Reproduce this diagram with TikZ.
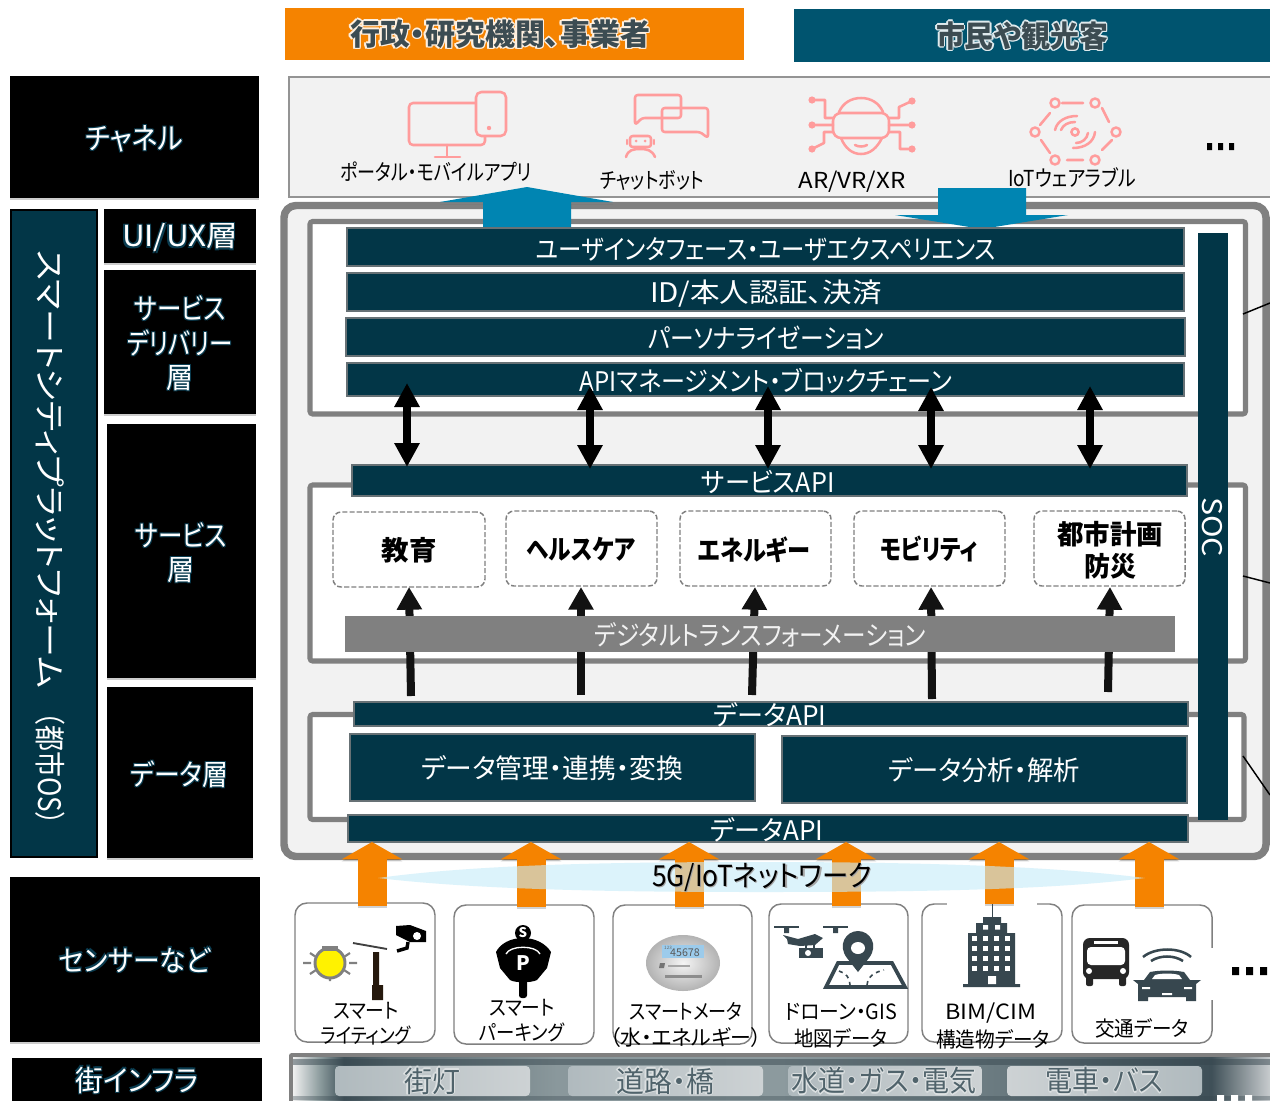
\documentclass[tikz,border=0pt]{standalone}
\usepackage{fontspec}
\usepackage{graphicx}
\setmainfont[RawFeature=+palt]{Noto Sans CJK JP}
\usetikzlibrary{arrows.meta,shadows,shadings}
\newlength\pxu \pxu=.75pt
\definecolor{barteal}{HTML}{023647}
\definecolor{headteal}{HTML}{00546F}
\definecolor{edgegray}{HTML}{808080}
\definecolor{panelgray}{HTML}{F2F2F2}
\definecolor{orangeA}{HTML}{F58300}
\definecolor{blueA}{HTML}{0085B2}
\definecolor{pinkI}{HTML}{FF9C9C}
\definecolor{iconD}{HTML}{37474F}
\definecolor{glowT}{HTML}{0A3C50}
\definecolor{headtxt}{HTML}{3C4C52}
\definecolor{striptxt}{HTML}{50636B}
\definecolor{stA}{HTML}{F0F0F0}
\definecolor{stM}{HTML}{8A9A9C}
\definecolor{stB}{HTML}{3F5058}
\definecolor{stC}{HTML}{5A6A70}
\definecolor{stD}{HTML}{8A989C}
\definecolor{stE}{HTML}{8C9A9E}
\definecolor{stF}{HTML}{6A7A80}
\definecolor{stG}{HTML}{C8CCCE}
\definecolor{lensC}{HTML}{C8ECFA}
\definecolor{lcdC}{HTML}{9CCBEB}
\definecolor{labL}{HTML}{B0BABE}
\definecolor{labR}{HTML}{CDD2D4}
\pgfdeclarehorizontalshading{stripshade}{100bp}{
  color(0bp)=(stA); color(25bp)=(stA); color(26.4bp)=(stM); color(27.6bp)=(stB); color(30bp)=(stC); color(38.5bp)=(stD);
  color(50bp)=(stE); color(61bp)=(stF); color(72bp)=(stB); color(75bp)=(stG); color(100bp)=(stG)}
\newcommand\gc[4]{\rlap{\kern#2\raise#3\hbox{\color{#1}#4}}}
\newcommand\glowD[3]{\gc{#1}{\dimexpr#2*7/10\relax}{\dimexpr#2*7/10\relax}{#3}\gc{#1}{-\dimexpr#2*7/10\relax}{\dimexpr#2*7/10\relax}{#3}\gc{#1}{\dimexpr#2*7/10\relax}{-\dimexpr#2*7/10\relax}{#3}\gc{#1}{-\dimexpr#2*7/10\relax}{-\dimexpr#2*7/10\relax}{#3}#3}
\newcommand\glowR[3]{\gc{#1}{#2}{0pt}{#3}\gc{#1}{-#2}{0pt}{#3}\gc{#1}{0pt}{#2}{#3}\gc{#1}{0pt}{-#2}{#3}\glowD{#1}{#2}{#3}}
\newcommand\bx[6]{\node[#1,minimum width={(#5-#3)*0.75pt},minimum height={(#6-#4)*0.75pt}] (#2) at ({(#3+#5)/2},{(#4+#6)/2}) {};}
\newcommand\tx[7][]{\node[inner sep=0pt,#1] (#2) at (#3,#4) {\resizebox{#5\pxu}{\height}{\fontsize{#6\pxu}{#6\pxu}\selectfont\vphantom{国}#7}};}
\newcommand\orarr[4]{% name x ybot ytop
  \coordinate (#1b) at (#2,#3); \coordinate (#1t) at (#2,#4);
  \draw[orangeshadow,transform canvas={yshift=-1.5pt}] (#1b) -- (#1t);
  \draw[orangearrow] (#1b) -- (#1t);}
\tikzset{
  bar/.style={fill=barteal,draw=edgegray!80!barteal,line width=.8pt,inner sep=0pt,outer sep=0pt},
  blackbox/.style={fill=black,inner sep=0pt,outer sep=0pt,drop shadow={shadow xshift=0pt,shadow yshift=-1.5pt,opacity=.2,fill=black}},
  layerframe/.style={fill=white,draw=edgegray,line width=3.8pt,rounded corners=2pt,inner sep=0pt},
  dashbox/.style={draw=edgegray,dashed,dash pattern=on 3.8pt off 1.6pt,line width=1.1pt,rounded corners=6pt,fill=white,inner sep=0pt},
  sensorbox/.style={draw=edgegray,line width=1.1pt,rounded corners=9pt,fill=white,inner sep=0pt},
  infrabox/.style={left color=labL,right color=labR,rounded corners=3pt,inner sep=0pt},
  infraboxR/.style={left color=labR,right color=labL,rounded corners=3pt,inner sep=0pt},
  doublearrow/.style={line width=6pt,{Triangle[width=18pt,length=18pt]}-{Triangle[width=18pt,length=18pt]},black},
  uparrow/.style={line width=6pt,-{Triangle[width=18pt,length=17pt]},black!93},
  orangearrow/.style={line width=21.75pt,-{Triangle[width=45pt,length=13pt]},orangeA},
  orangeshadow/.style={line width=21.75pt,-{Triangle[width=45pt,length=13pt]},black,opacity=.18},
  pinkline/.style={draw=pinkI,line width=1.9pt,line cap=round,line join=round},
  leader/.style={draw=black,line width=1.1pt},
}
\begin{document}
\begin{tikzpicture}[x=0.75pt,y=-0.75pt]
\useasboundingbox (0,0) rectangle (1270,1100);
\clip (0,0) rectangle (1270,1100);
\fill[white] (0,0) rectangle (1270,1100);
% headers
\bx{fill=orangeA,inner sep=0pt}{hdrA}{285}{8}{744}{60}
\bx{fill=headteal,inner sep=0pt}{hdrB}{794}{9}{1270}{62}
\tx[text=headtxt,font=\bfseries]{hdrAt}{500}{34}{300}{30}{\glowR{white!88!orangeA}{1.1pt}{行政・研究機関、事業者}}
\tx[text=headtxt,font=\bfseries]{hdrBt}{1022}{36}{172}{30}{\glowR{white!88!headteal}{1.1pt}{市民や観光客}}
% channel panel
\bx{fill=panelgray,draw=black!42,line width=1.2pt,inner sep=0pt}{chan}{289}{77}{1274}{197}
% portal icon
\draw[pinkline,fill=panelgray,rounded corners=3pt] (409,103) rectangle (485,145);
\draw[pinkline] (447,145) -- (447,157) (435,157) -- (460,157);
\draw[pinkline,fill=panelgray,rounded corners=4pt] (476,92) rectangle (506,136);
\fill[pinkI] (489,128) circle[radius=2.2];
\tx[text=black]{chanA}{436}{172}{192}{22}{ポータル・モバイルアプリ}
% chatbot icon
\draw[pinkline,rounded corners=2pt] (635,125) -- (635,95) -- (681,95) -- (681,118) -- (642,118) -- cycle;
\draw[pinkline,rounded corners=2pt] (708,138) -- (708,108) -- (662,108) -- (662,132) -- (700,132) -- cycle;
\draw[pinkline,rounded corners=2pt] (630,136) rectangle (651,147);
\draw[pinkline] (627,140) -- (627,144) (654,140) -- (654,144);
\fill[pinkI] (636,141) circle[radius=1.5] (645,141) circle[radius=1.5];
\draw[pinkline] (626,157) .. controls (628,150) and (633,149) .. (640,149) .. controls (647,149) and (652,150) .. (655,157);
\tx[text=black]{chanB}{652}{180}{104}{22}{チャットボット}
% VR icon
\draw[pinkline] (839,112) .. controls (843,103) and (851,98) .. (861,98) .. controls (871,98) and (879,103) .. (883,112)
  (841,138) .. controls (845,148) and (852,154) .. (861,154) .. controls (870,154) and (877,148) .. (882,138);
\draw[pinkline,rounded corners=6pt] (833,113) rectangle (889,138);
\draw[pinkline] (855,145) .. controls (858,147) and (864,147) .. (867,145);
\draw[pinkline] (812,100) -- (825,100) -- (825,118) -- (833,118)
  (812,125) -- (833,125) (812,149) -- (824,143) -- (824,132) -- (833,132)
  (912,101) -- (899,107) -- (899,118) -- (889,118)
  (912,125) -- (889,125) (912,149) -- (900,149) -- (900,132) -- (889,132);
\fill[pinkI] (812,100) circle[radius=3.6] (812,125) circle[radius=3.6] (812,149) circle[radius=3.6]
  (912,101) circle[radius=3.6] (912,125) circle[radius=3.6] (912,149) circle[radius=3.6];
\tx[text=black]{chanC}{852}{182}{107}{22}{AR/VR/XR}
% IoT icon
\draw[pinkline] (1055,103) circle[radius=4.5] (1095,103) circle[radius=4.5] (1116,132) circle[radius=4.5]
  (1095,160) circle[radius=4.5] (1055,160) circle[radius=4.5] (1035,132) circle[radius=4.5] (1075,132) circle[radius=3.6];
\draw[pinkline] (1062,103) -- (1083,103) (1102,108) -- (1109,122) (1112,140) -- (1102,150)
  (1067,160) -- (1083,160) (1041,140) -- (1050,153) (1040,125) -- (1050,113);
\draw[pinkline] (1055,130) .. controls (1057,121) and (1066,116) .. (1077,116)
  (1061,130) .. controls (1063,125) and (1068,122) .. (1075,122)
  (1095,132) .. controls (1094,142) and (1085,148) .. (1073,148)
  (1088,133) .. controls (1087,139) and (1082,143) .. (1076,143);
\tx[text=black]{chanD}{1072}{178}{128}{22}{IoTウェアラブル}
\fill[black] (1207,143) rectangle +(5,7) (1218,143) rectangle +(5,7) (1229,143) rectangle +(5,7);
% big frame
\bx{fill=panelgray,draw=edgegray,line width=5.6pt,rounded corners=9pt,inner sep=0pt}{frame}{284}{205.5}{1266}{856.5}
\bx{layerframe}{boxA}{310}{221.5}{1245.5}{414}
\bx{layerframe}{boxB}{310}{485}{1245.5}{661}
\bx{layerframe}{boxC}{310}{714.5}{1244}{819.5}
% blue arrows
\fill[black,opacity=.2] (440,204) -- (613,204) -- (571,204) -- (571,208) -- (483,208) -- (483,204) -- cycle;
\fill[blueA] (483,228) -- (483,202) -- (440,202) -- (527,187) -- (613,202) -- (571,202) -- (571,228) -- cycle;
\fill[blueA] (938,188) -- (1026,188) -- (1026,215) -- (1068,215) -- (982,229) -- (895,215) -- (938,215) -- cycle;
% upper bars
\bx{bar}{ux}{347}{228}{1184}{266}
\bx{bar}{idb}{347}{273}{1184}{311}
\bx{bar}{pers}{346}{318}{1185}{356}
\bx{bar}{api}{347}{363}{1184}{396}
\bx{bar}{svc}{352}{465}{1187}{496}
\tx[text=white]{uxT}{766}{250}{460}{27}{ユーザインタフェース・ユーザエクスペリエンス}
\tx[text=white]{idT}{766}{294}{232}{27}{ID/本人認証、決済}
\tx[text=white]{persT}{766}{338}{236}{27}{パーソナライゼーション}
\tx[text=white]{apiT}{766}{381}{372}{27}{APIマネージメント・ブロックチェーン}
\tx[text=white]{svcT}{768}{482}{133}{27}{サービスAPI}
% service boxes
\bx{dashbox}{eduB}{333}{512}{485}{587}
\bx{dashbox}{hlthB}{506}{511}{657}{586}
\bx{dashbox}{enerB}{680}{511}{831}{586}
\bx{dashbox}{mobiB}{854}{511}{1005}{586}
\bx{dashbox}{planB}{1034}{511}{1185}{586}
\tx[text=black,font=\bfseries]{eduT}{409}{550}{55}{27}{教育}
\tx[text=black,font=\bfseries]{hlthT}{581}{550}{108}{27}{ヘルスケア}
\tx[text=black,font=\bfseries]{enerT}{754}{550}{112}{27}{エネルギー}
\tx[text=black,font=\bfseries]{mobiT}{929}{549}{98}{27}{モビリティ}
\tx[text=black,font=\bfseries]{planT}{1110}{534}{106}{27}{都市計画}
\tx[text=black,font=\bfseries]{bousaiT}{1110}{566}{52}{27}{防災}
% up arrows
\coordinate (uAb) at (411,696); \coordinate (uAt) at (409,587);
\coordinate (uBb) at (581,695); \coordinate (uBt) at (581,587);
\coordinate (uCb) at (752,695); \coordinate (uCt) at (755,587);
\coordinate (uDb) at (932,699); \coordinate (uDt) at (931,587);
\coordinate (uEb) at (1108,692); \coordinate (uEt) at (1110,587);
\draw[uparrow] (uAb) -- (uAt);
\draw[uparrow] (uBb) -- (uBt);
\draw[uparrow] (uCb) -- (uCt);
\draw[uparrow] (uDb) -- (uDt);
\draw[uparrow] (uEb) -- (uEt);
\bx{fill=edgegray,inner sep=0pt}{dx}{345}{616}{1175}{652}
\tx[text=panelgray]{dxT}{760}{635}{332}{27}{デジタルトランスフォーメーション}
% data
\bx{bar}{dapiA}{354}{702}{1188}{726}
\bx{bar}{dmgmt}{350}{734}{755}{801}
\bx{bar}{dana}{782}{736}{1187}{803}
\bx{bar}{dapiB}{348}{815}{1188}{842}
\tx[text=white]{dapiAT}{770}{715}{113}{27}{データAPI}
\tx[text=white]{dmgmtT}{552}{768}{262}{27}{データ管理・連携・変換}
\tx[text=white]{danaT}{984}{770}{192}{27}{データ分析・解析}
\tx[text=white]{dapiBT}{767}{830}{113}{27}{データAPI}
% SOC
\bx{fill=barteal,inner sep=0pt}{soc}{1198}{233}{1228}{820}
\tx[text=white,rotate=-90]{socT}{1212}{527}{60}{27}{SOC}
% double arrows
\coordinate (dAt) at (407,383); \coordinate (dAb) at (407,467);
\coordinate (dBt) at (590,386); \coordinate (dBb) at (590,469);
\coordinate (dCt) at (768,386); \coordinate (dCb) at (768,469);
\coordinate (dDt) at (931,387); \coordinate (dDb) at (931,469);
\coordinate (dEt) at (1090,386); \coordinate (dEb) at (1090,469);
\draw[doublearrow] (dAt) -- (dAb);
\draw[doublearrow] (dBt) -- (dBb);
\draw[doublearrow] (dCt) -- (dCb);
\draw[doublearrow] (dDt) -- (dDb);
\draw[doublearrow] (dEt) -- (dEb);
% leaders at right edge
\coordinate (lAa) at (1243,314); \coordinate (lAb) at (1270,303);
\coordinate (lBa) at (1243,576); \coordinate (lBb) at (1270,583);
\coordinate (lCa) at (1243,756); \coordinate (lCb) at (1270,795);
\draw[leader] (lAa) -- (lAb);
\draw[leader] (lBa) -- (lBb);
\draw[leader] (lCa) -- (lCb);
% left column
\bx{blackbox}{lChan}{10}{76}{259}{198}
\bx{fill=barteal,draw=black,line width=1.6pt,inner sep=0pt}{lCity}{11}{210}{97}{857}
\bx{blackbox}{lUI}{104}{209}{256}{263}
\bx{blackbox}{lDeliv}{104}{270}{256}{414}
\bx{blackbox}{lSvc}{107}{424}{256}{678}
\bx{blackbox}{lData}{107}{687}{253}{858}
\bx{blackbox}{lSens}{10}{877}{260}{1042}
\bx{blackbox}{lInfra}{12}{1058}{262}{1104}
\tx[text=white]{lChanT}{134}{139}{98}{30}{\glowD{glowT}{1.2pt}{チャネル}}
\node[inner sep=0pt,text=white,rotate=-90] (lCityT) at (50,537.5) {\fontsize{31\pxu}{31\pxu}\selectfont\vphantom{国}\resizebox{438\pxu}{\height}{スマートシティプラットフォーム}\hspace{24\pxu}\resizebox{113\pxu}{\height}{（都市OS）}};
\tx[text=white]{lUIT}{180}{238}{116}{29}{\glowD{glowT}{1.2pt}{UI/UX層}}
\tx[text=white]{lDelA}{180}{308}{92}{29}{\glowD{glowT}{1.2pt}{サービス}}
\tx[text=white]{lDelB}{180}{343}{106}{29}{\glowD{glowT}{1.2pt}{デリバリー}}
\tx[text=white]{lDelC}{180}{378}{27}{29}{\glowD{glowT}{1.2pt}{層}}
\tx[text=white]{lSvcA}{181}{535}{92}{29}{\glowD{glowT}{1.2pt}{サービス}}
\tx[text=white]{lSvcB}{181}{570}{27}{29}{\glowD{glowT}{1.2pt}{層}}
\tx[text=white]{lDataT}{179}{774}{98}{29}{\glowD{glowT}{1.2pt}{データ層}}
\tx[text=white]{lSensT}{135}{960}{152}{29}{\glowD{glowT}{1.2pt}{センサーなど}}
\tx[text=white]{lInfraT}{137}{1080}{123}{29}{\glowD{glowT}{1.2pt}{街インフラ}}
% sensor boxes
\bx{sensorbox}{sA}{295}{903}{435}{1042}
\bx{sensorbox}{sB}{454}{905}{594}{1044}
\bx{sensorbox}{sC}{613}{905}{752}{1044}
\bx{sensorbox}{sD}{769}{904}{908}{1043}
\bx{sensorbox}{sE}{922}{904}{1062}{1042}
\bx{sensorbox}{sF}{1072}{905}{1212}{1043}
\fill[white] (947,902) rectangle (1037,906);
\fill[white] (1205,948) rectangle (1215,1000);
% orange arrows
\orarr{oA}{372}{906}{842}
\orarr{oB}{531}{907}{842}
\orarr{oC}{689}{907}{842}
\orarr{oD}{846}{906}{842}
\orarr{oE}{999}{904}{842}
\orarr{oF}{1149}{907}{842}
% network lens
\fill[lensC,opacity=.62] (378,878) .. controls (480,864) and (620,862) .. (760,862) .. controls (920,862) and (1050,866) .. (1145,878)
  .. controls (1050,890) and (920,892) .. (760,892) .. controls (620,892) and (480,890) .. (378,878) -- cycle;
\tx[text=black]{netT}{762}{878}{220}{29}{\gc{black!35}{1pt}{-1pt}{5G/IoTネットワーク}5G/IoTネットワーク}
% sensor labels
\tx[text=black]{sAa}{366}{1011}{66}{21}{スマート}
\tx[text=black]{sAb}{366}{1036}{90}{21}{ライティング}
\tx[text=black]{sBa}{522}{1008}{66}{21}{スマート}
\tx[text=black]{sBb}{522}{1033}{85}{21}{パーキング}
\tx[text=black]{sCa}{686}{1012}{113}{21}{スマートメータ}
\tx[text=black]{sCb}{686}{1038}{152}{21}{（水・エネルギー）}
\tx[text=black]{sDa}{841}{1012}{112}{21}{ドローン・GIS}
\tx[text=black]{sDb}{841}{1038}{93}{21}{地図データ}
\tx[text=black]{sEa}{991}{1013}{91}{21}{BIM/CIM}
\tx[text=black]{sEb}{993}{1039}{114}{21}{構造物データ}
\tx[text=black]{sFa}{1142}{1028}{94}{21}{交通データ}
% lamp icon
\draw[edgegray,line width=2.2pt,fill=yellow] (330,963) circle[radius=15];
\fill[edgegray] (322,946) rectangle (338,951);
\draw[edgegray,line width=1.6pt] (303,963) -- (311,963) (349,963) -- (357,963) (310,953) -- (316,957) (350,953) -- (344,957)
  (310,974) -- (316,970) (350,974) -- (344,970) (330,977) -- (330,981);
\draw[black!75,line width=1.4pt] (353,943) -- (387,949);
\fill[black!80!brown] (373,952) rectangle (379,985) (372,985) rectangle (383,1000);
% camera
\fill[black] (396,926) -- (410,925) -- (426,931) -- (426,942) -- (410,942) -- (396,935) -- cycle;
\fill[white] (417,936) circle[radius=4];
\draw[black,line width=2.6pt] (408,942) -- (407,948) -- (397,951);
% parking meter
\fill[black] (523,938) .. controls (510,938) and (500,944) .. (496,952) -- (500,968) -- (510,980) .. controls (515,983) and (531,983) .. (537,980) -- (547,968) -- (551,952) .. controls (546,944) and (536,938) .. (523,938) -- cycle;
\fill[black,rounded corners=2pt] (519,980) rectangle (527,998);
\draw[white,line width=1pt] (506,954) .. controls (510,945) and (536,945) .. (540,954);
\fill[black] (523,933) circle[radius=8];
\node[inner sep=0pt,text=white,font=\bfseries\fontsize{10pt}{10pt}\selectfont] (pS) at (523,933) {S};
\node[inner sep=0pt,text=white,font=\bfseries\fontsize{15pt}{15pt}\selectfont] (pP) at (523,963) {P};
% smart meter
\shade[outer color=black!30,inner color=black!4] (683,963) ellipse[x radius=37,y radius=28];
\fill[lcdC] (662,945) rectangle (704,958);
\node[inner sep=0pt,font=\fontsize{8pt}{8pt}\selectfont,text=black!65] (mD) at (685,953) {45678};
\node[inner sep=0pt,font=\fontsize{3.4pt}{4pt}\selectfont,text=black!60] (mL) at (668,948) {123};
\fill[black!45] (665,975) rectangle (702,978);
\fill[black!55] (660,963) -- (665,963) -- (664,968) -- (659,968) -- cycle;
\fill[black!35] (668,965) rectangle (690,967);
% drone
\draw[iconD,line width=1.2pt] (774,927) -- (799,927) (823,927) -- (848,927);
\fill[iconD] (784,928) rectangle (789,933) (833,928) rectangle (838,933);
\fill[iconD] (783,935) -- (798,939) -- (815,934) -- (823,938) -- (815,945) -- (800,946) -- (788,944) -- (787,939) -- cycle;
\fill[iconD] (799,948) rectangle (823,958);
\fill[white] (808,953) circle[radius=3];
\draw[iconD,line width=1.2pt] (806,945) -- (806,948) (814,945) -- (814,948);
% map
\draw[iconD,line width=2.8pt,line join=miter] (838,963) -- (892,963) -- (905,987) -- (826,987) -- cycle;
\draw[iconD,line width=1.2pt,dashed] (839,971) .. controls (846,973) and (850,978) .. (850,985) (867,985) .. controls (868,975) and (876,972) .. (884,970);
\fill[iconD] (858,972) -- (847,958) .. controls (837,945) and (846,931) .. (858,931) .. controls (870,931) and (879,945) .. (869,958) -- cycle;
\fill[white] (858,948) ellipse[x radius=7,y radius=6];
% building
\fill[iconD] (992,904) rectangle (993.2,917);
\fill[iconD] (983,917) rectangle (1001,923) (976,923) rectangle (1007,933) (968,933) rectangle (1015,984) (963,984) rectangle (1020,987);
\foreach \wx in {974,985,996,1007} \foreach \wy in {938,948,958,968} {\fill[white] (\wx-2.5,\wy-2) rectangle +(5.5,5);}
\fill[white] (983,925) rectangle +(5,4.5) (995,925) rectangle +(5,4.5) (988,976) rectangle (996,984);
% bus
\fill[black!85,rounded corners=5pt] (1083,938) rectangle (1129,979);
\fill[black!85,rounded corners=1.5pt] (1086,975) rectangle (1093,986) (1119,975) rectangle (1126,986);
\fill[white,rounded corners=3pt] (1087,947) rectangle (1125,965);
\fill[white] (1094,941) rectangle (1118,944);
\fill[white] (1089,971) circle[radius=3] (1123,971) circle[radius=3];
% car
\fill[iconD] (1133,980) -- (1144,980) -- (1150,972) .. controls (1160,970) and (1174,970) .. (1184,972) -- (1190,980) -- (1201,980) -- (1196,984) -- (1196,1001) -- (1186,1001) -- (1186,997) -- (1148,997) -- (1148,1001) -- (1138,1001) -- (1138,984) -- cycle;
\fill[white] (1152,979) -- (1155,975) .. controls (1162,973) and (1172,973) .. (1179,975) -- (1182,979) -- cycle;
\fill[white] (1142,987) rectangle (1150,989) (1184,987) rectangle (1192,989) (1162,993) rectangle (1172,995);
\draw[iconD,line width=1.9pt] (1143,957) .. controls (1155,947) and (1180,947) .. (1191,957) (1151,961) .. controls (1160,955) and (1174,955) .. (1183,961);
\fill[black] (1232,967) rectangle +(7,8) (1246,967) rectangle +(7,8) (1260,967) rectangle +(7,8);
% infrastructure strip
\bx{fill=edgegray,inner sep=0pt,rounded corners=2pt}{infra}{289}{1053}{1276}{1104}
\shade[shading=stripshade] (293,1057) rectangle (1270,1100);
\fill[iconD,opacity=.5] (293,1059) rectangle (1270,1065);
\fill[iconD,opacity=.35] (293,1096) rectangle (1270,1100);
\bx{infrabox}{iA}{335}{1066}{530}{1096}
\bx{infrabox}{iB}{568}{1066}{763}{1096}
\bx{infrabox}{iC}{788}{1066}{982}{1096}
\bx{infraboxR}{iD}{1007}{1066}{1202}{1096}
\tx[text=striptxt]{iAT}{432}{1081}{56}{29}{\glowR{white!80!striptxt}{.8pt}{街灯}}
\tx[text=striptxt]{iBT}{665}{1081}{98}{29}{\glowR{white!80!striptxt}{.8pt}{道路・橋}}
\tx[text=striptxt]{iCT}{884}{1081}{185}{29}{\glowR{white!80!striptxt}{.8pt}{水道・ガス・電気}}
\tx[text=striptxt]{iDT}{1104}{1081}{118}{29}{\glowR{white!80!striptxt}{.8pt}{電車・バス}}
\fill[white] (1217,1095) rectangle +(7,6) (1231,1095) rectangle +(7,6) (1245,1095) rectangle +(7,6);
\end{tikzpicture}
\end{document}
